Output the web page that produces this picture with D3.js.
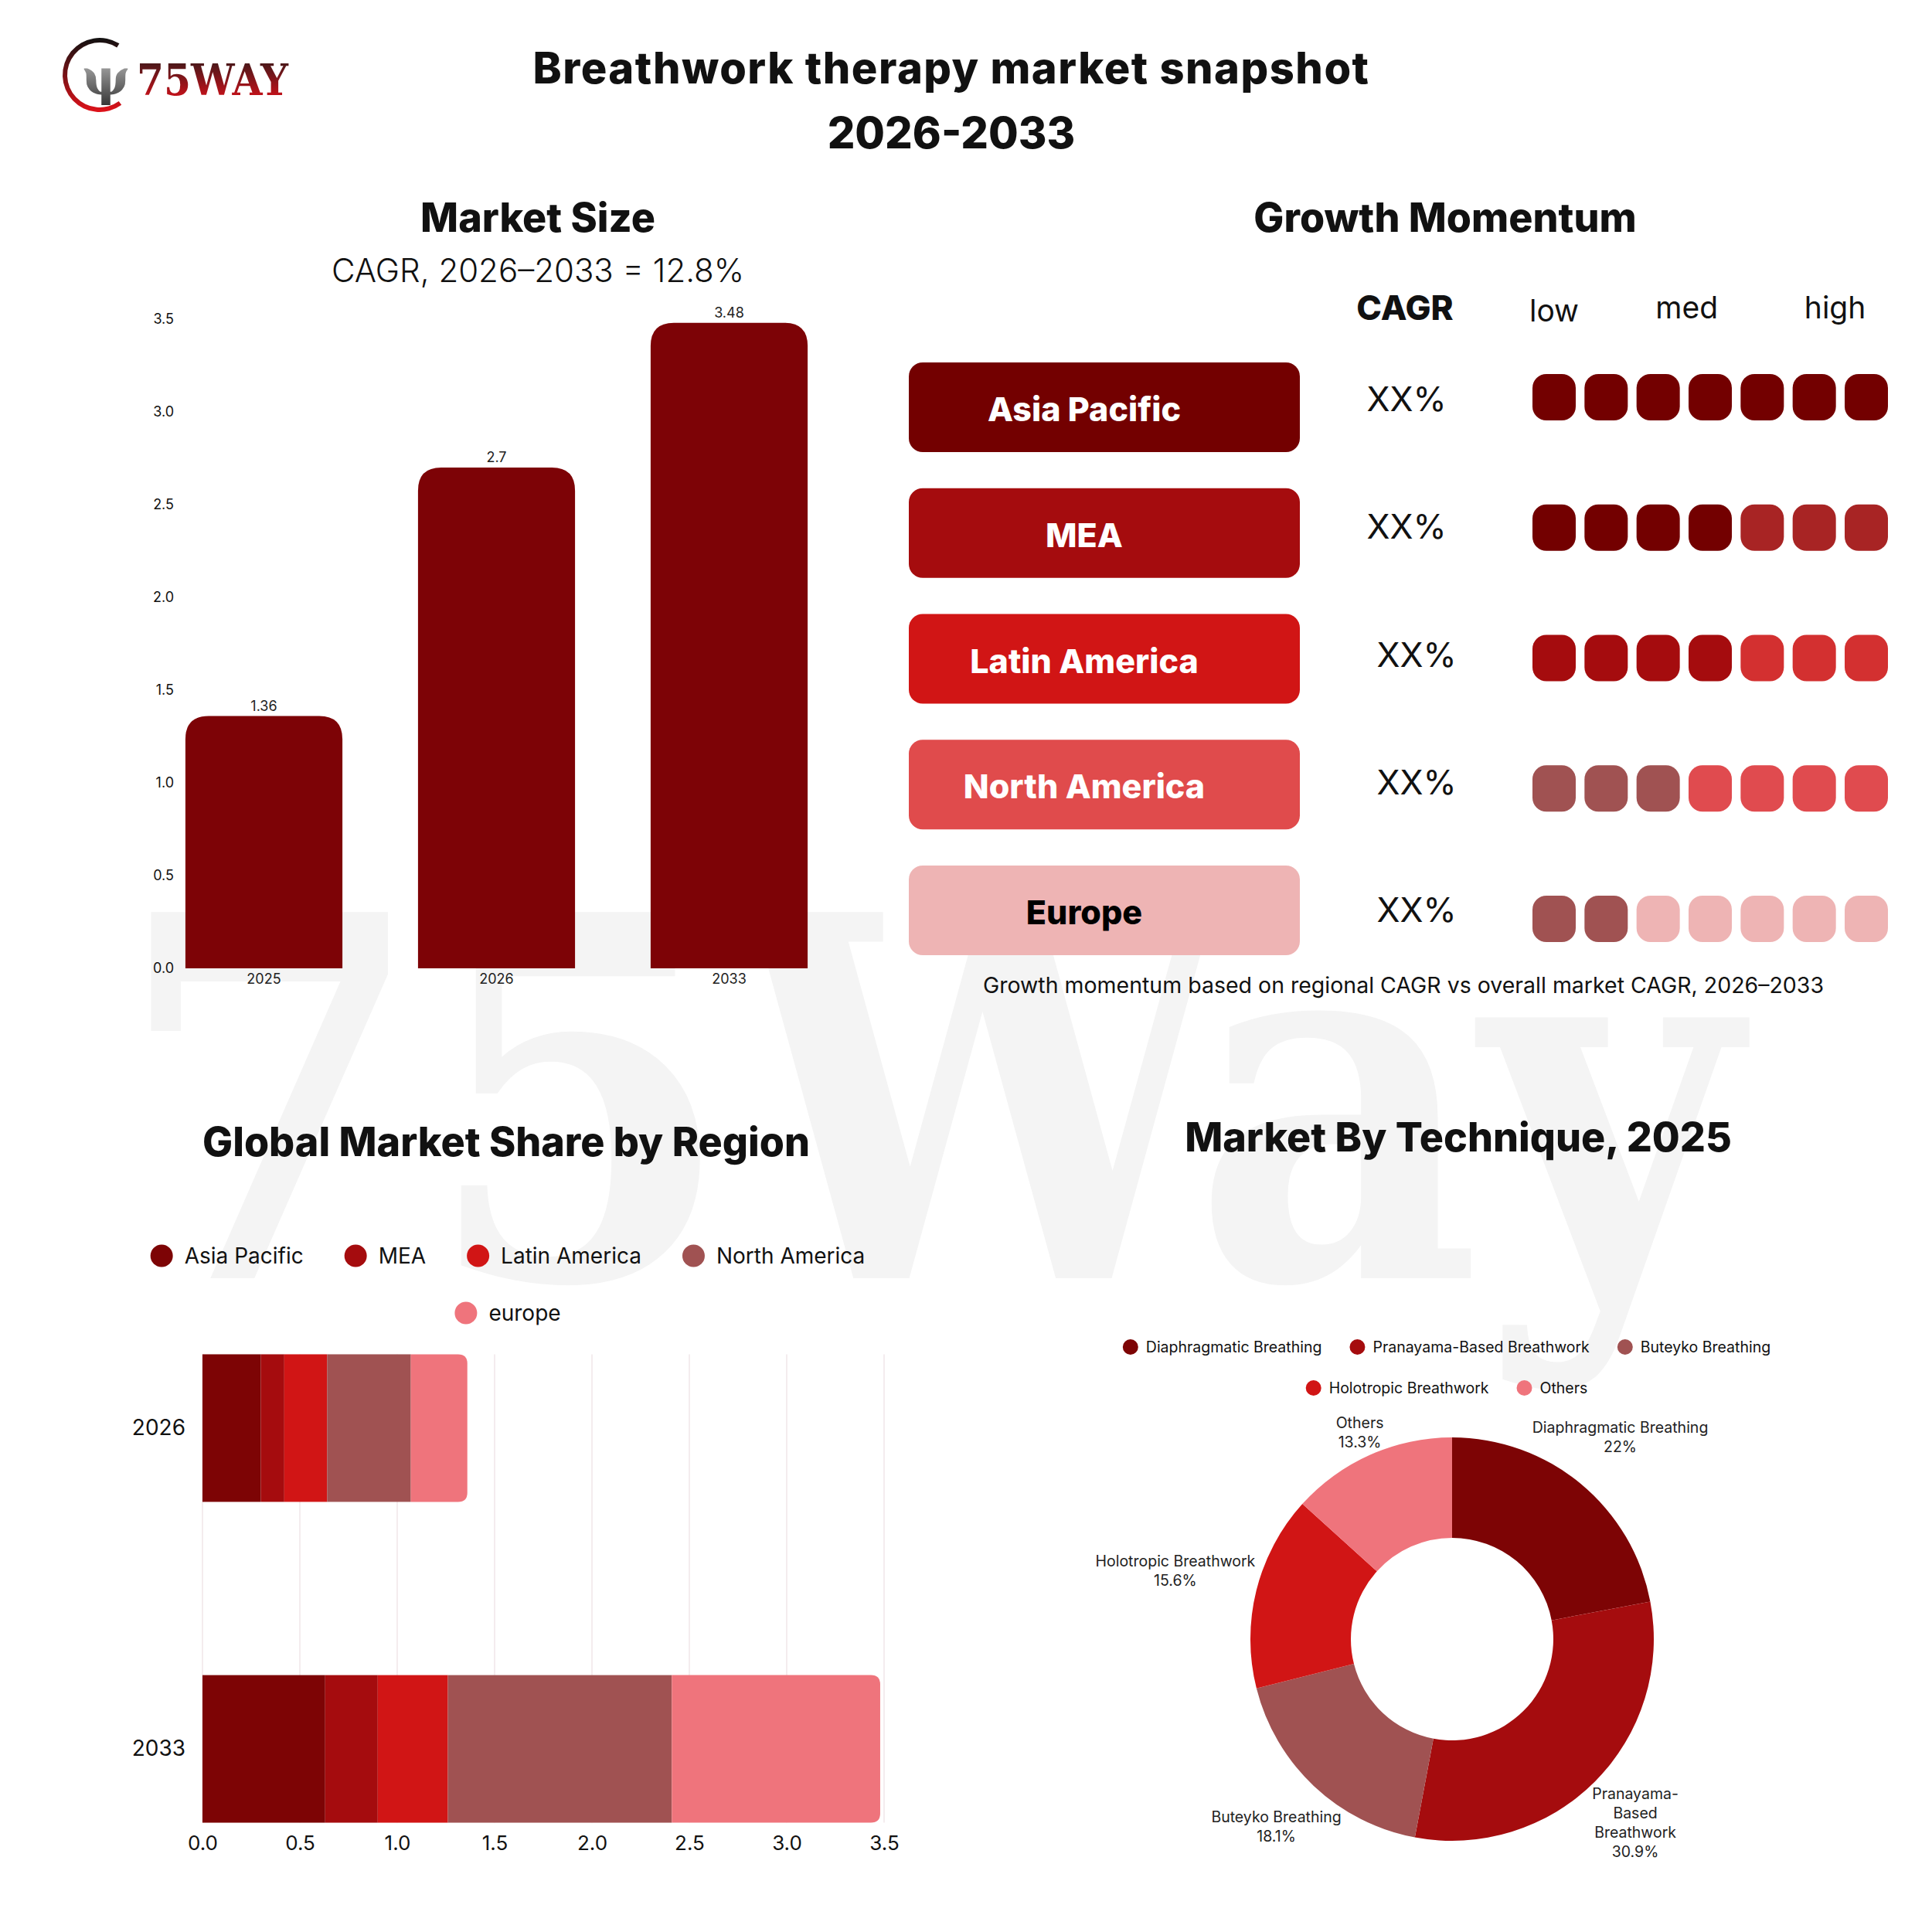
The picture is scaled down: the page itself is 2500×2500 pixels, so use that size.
<!DOCTYPE html>
<html>
<head>
<meta charset="utf-8">
<script src="https://cdn.jsdelivr.net/npm/d3@7"></script>
<style>
  body { margin: 0; background: #fff; }
  svg { display: block; }
  text { font-family: Inter, "Noto Sans", sans-serif; fill: #111; }
</style>
</head>
<body>
<div id="chart"></div>
<script>
// ---- data ----
var years = ["2025", "2026", "2033"];
var marketSize = [1.36, 2.7, 3.48];

var momentumRegions = ["Asia Pacific", "MEA", "Latin America", "North America", "Europe"];
var momentumCagr = ["XX%", "XX%", "XX%", "XX%", "XX%"];
var momentumBoxColors = ["#730000", "#a50c0e", "#d11515", "#e04b4c", "#eeb4b4"];
var momentumTextColors = ["#fff", "#fff", "#fff", "#fff", "#000"];
var momentumStrong = [7, 4, 4, 3, 2];
var momentumStrongColors = ["#730000", "#730000", "#a50c0e", "#a05252", "#a05252"];
var momentumWeakColors = ["#730000", "#a82424", "#d33030", "#e04b4f", "#eeb4b4"];
var momentumLevels = ["low", "med", "high"];

var shareYears = ["2026", "2033"];
var shareRegions = ["Asia Pacific", "MEA", "Latin America", "North America", "europe"];
var shareColors = ["#7d0405", "#a50c0e", "#d11515", "#a05252", "#ef747c"];
var share2026 = [0.30, 0.12, 0.22, 0.43, 0.29];
var share2033 = [0.63, 0.27, 0.36, 1.15, 1.07];
var shareTicks = [0, 0.5, 1, 1.5, 2, 2.5, 3, 3.5];

var techniques = ["Diaphragmatic Breathing", "Pranayama-Based Breathwork", "Buteyko Breathing", "Holotropic Breathwork", "Others"];
var techniqueShare = [22, 30.9, 18.1, 15.6, 13.3];
var techniqueColors = ["#7d0405", "#a50c0e", "#a05252", "#d11515", "#ef747c"];
var techniqueLabelLines = [["Diaphragmatic Breathing"], ["Pranayama-", "Based", "Breathwork"], ["Buteyko Breathing"], ["Holotropic Breathwork"], ["Others"]];

var W = 2500, H = 2500;
var svg = d3.select("#chart").append("svg")
  .attr("width", W)
  .attr("height", H);

var defs = svg.append("defs");

// watermark
svg.append("text")
  .attr("x", 150)
  .attr("y", 1654)
  .attr("textLength", 2100)
  .attr("lengthAdjust", "spacingAndGlyphs")
  .style("font-family", "'DejaVu Serif', serif")
  .style("font-weight", "bold")
  .style("font-size", "650px")
  .style("fill", "#f4f4f4")
  .text("75Way");

// ---- logo ----
var lg = defs.append("linearGradient").attr("id", "logoArc").attr("x1", 0).attr("y1", 0).attr("x2", 0).attr("y2", 1);
lg.append("stop").attr("offset", "0%").attr("stop-color", "#111");
lg.append("stop").attr("offset", "100%").attr("stop-color", "#e0121a");
var lt = defs.append("linearGradient").attr("id", "logoText").attr("x1", 0).attr("y1", 0).attr("x2", 0).attr("y2", 1);
lt.append("stop").attr("offset", "0%").attr("stop-color", "#2a1a1a");
lt.append("stop").attr("offset", "100%").attr("stop-color", "#e3101a");
var lp = defs.append("linearGradient").attr("id", "logoIcon").attr("x1", 0).attr("y1", 0).attr("x2", 0).attr("y2", 1);
lp.append("stop").attr("offset", "0%").attr("stop-color", "#d0d0d0");
lp.append("stop").attr("offset", "100%").attr("stop-color", "#333");

var logo = svg.append("g");
logo.append("path")
  .attr("transform", "translate(129,97)")
  .attr("d", d3.arc()({innerRadius: 42, outerRadius: 48, startAngle: 144 * Math.PI / 180, endAngle: 392 * Math.PI / 180}))
  .attr("fill", "url(#logoArc)");
logo.append("text")
  .attr("x", 137).attr("y", 122)
  .attr("text-anchor", "middle")
  .style("font-family", "'DejaVu Serif', serif")
  .style("font-weight", "bold")
  .style("font-size", "66px")
  .style("fill", "url(#logoIcon)")
  .text("ψ");
logo.append("text")
  .attr("x", 177).attr("y", 123)
  .attr("textLength", 196)
  .attr("lengthAdjust", "spacingAndGlyphs")
  .style("font-family", "'DejaVu Serif', serif")
  .style("font-weight", "bold")
  .style("font-size", "56px")
  .style("fill", "url(#logoText)")
  .text("75WAY");

// ---- main title ----
svg.append("text").attr("x", 1231).attr("y", 108).attr("text-anchor", "middle")
  .style("font-size", "56px").style("font-weight", 800).style("letter-spacing", "1.5px")
  .text("Breathwork therapy market snapshot");
svg.append("text").attr("x", 1231).attr("y", 192).attr("text-anchor", "middle")
  .style("font-size", "56px").style("font-weight", 800)
  .text("2026-2033");

function sectionTitle(x, y, t) {
  svg.append("text").attr("x", x).attr("y", y).attr("text-anchor", "middle")
    .style("font-size", "52px").style("font-weight", 800).text(t);
}

// rounded on top only
function topRounded(x, y, w, h, r) {
  return "M" + x + "," + (y + h) + "V" + (y + r) + "Q" + x + "," + y + " " + (x + r) + "," + y +
    "H" + (x + w - r) + "Q" + (x + w) + "," + y + " " + (x + w) + "," + (y + r) + "V" + (y + h) + "Z";
}
// rounded on right only
function rightRounded(x, y, w, h, r) {
  return "M" + x + "," + y + "H" + (x + w - r) + "Q" + (x + w) + "," + y + " " + (x + w) + "," + (y + r) +
    "V" + (y + h - r) + "Q" + (x + w) + "," + (y + h) + " " + (x + w - r) + "," + (y + h) + "H" + x + "Z";
}

// ---- Market Size ----
sectionTitle(696, 300, "Market Size");
svg.append("text").attr("x", 696).attr("y", 365).attr("text-anchor", "middle")
  .style("font-size", "42px").style("font-weight", 300)
  .text("CAGR, 2026–2033 = 12.8%");

var xSize = d3.scaleBand().domain(years).range([191, 1094]).paddingInner(0.325).paddingOuter(0.1625);
var ySize = d3.scaleLinear().domain([0, 3.5]).range([1253, 413]);

var sizeAxis = svg.append("g")
  .attr("transform", "translate(233,0)")
  .call(d3.axisLeft(ySize).tickValues(d3.range(0, 3.51, 0.5)).tickFormat(d3.format(".1f")).tickSize(0).tickPadding(8));
sizeAxis.select(".domain").remove();
sizeAxis.selectAll("text").style("font-size", "18px").style("font-family", "Inter, sans-serif").attr("fill", "#222");

svg.append("g").selectAll("path").data(marketSize).enter().append("path")
  .attr("d", function(d, i) {
    return topRounded(xSize(years[i]), ySize(d), xSize.bandwidth(), ySize(0) - ySize(d), 30);
  })
  .attr("fill", "#7d0306");

svg.append("g").selectAll("text").data(marketSize).enter().append("text")
  .attr("x", function(d, i) { return xSize(years[i]) + xSize.bandwidth() / 2; })
  .attr("y", function(d) { return ySize(d) - 7; })
  .attr("text-anchor", "middle")
  .style("font-size", "18px").style("fill", "#222")
  .text(function(d) { return d; });

svg.append("g").selectAll("text").data(years).enter().append("text")
  .attr("x", function(d) { return xSize(d) + xSize.bandwidth() / 2; })
  .attr("y", 1273)
  .attr("text-anchor", "middle")
  .style("font-size", "18px").style("fill", "#222")
  .text(function(d) { return d; });

// ---- Growth Momentum ----
sectionTitle(1870, 300, "Growth Momentum");

var rowBox = d3.scaleLinear().domain([0, 4]).range([469, 1120]);
var rowDot = d3.scaleLinear().domain([0, 4]).range([514, 1189]);
var rowCagr = d3.scaleLinear().domain([0, 4]).range([532, 1193]);
var dotX = d3.scaleLinear().domain([0, 6]).range([1983, 2387]);

svg.append("text").attr("x", 1818).attr("y", 414).attr("text-anchor", "middle")
  .style("font-size", "44px").style("font-weight", 800).text("CAGR");
svg.append("g").selectAll("text").data(momentumLevels).enter().append("text")
  .attr("x", function(d, i) { return dotX([0, 2.55, 5.4][i]) + 28; })
  .attr("y", function(d, i) { return i == 0 ? 416 : 412; })
  .attr("text-anchor", "middle")
  .style("font-size", "39px")
  .text(function(d) { return d; });

var rows = svg.append("g").selectAll("g").data(momentumRegions).enter().append("g");
rows.append("rect")
  .attr("x", 1176).attr("width", 506)
  .attr("y", function(d, i) { return rowBox(i); })
  .attr("height", 116).attr("rx", 18)
  .attr("fill", function(d, i) { return momentumBoxColors[i]; });
rows.append("text")
  .attr("x", 1403)
  .attr("y", function(d, i) { return rowBox(i) + 76; })
  .attr("text-anchor", "middle")
  .style("font-size", "43px").style("font-weight", 800)
  .style("fill", function(d, i) { return momentumTextColors[i]; })
  .text(function(d) { return d; });
rows.append("text")
  .attr("x", function(d, i) { return i < 2 ? 1820 : 1833; })
  .attr("y", function(d, i) { return rowCagr(i); })
  .attr("text-anchor", "middle")
  .style("font-size", "44px")
  .text(function(d, i) { return momentumCagr[i]; });
rows.each(function(d, i) {
  d3.select(this).selectAll(".dot").data(d3.range(7)).enter().append("rect")
    .attr("class", "dot")
    .attr("x", function(k) { return dotX(k); })
    .attr("y", rowDot(i) - 30)
    .attr("width", 56).attr("height", 60).attr("rx", 18)
    .attr("fill", function(k) { return k < momentumStrong[i] ? momentumStrongColors[i] : momentumWeakColors[i]; });
});

svg.append("text").attr("x", 1816).attr("y", 1285).attr("text-anchor", "middle")
  .style("font-size", "28.5px")
  .text("Growth momentum based on regional CAGR vs overall market CAGR, 2026–2033");

// legend helper: centered rows, wraps at maxW
function legend(items, colors, cx, y0, rowGap, r, fs, gapText, gapItem, maxW) {
  var g = svg.append("g");
  var widths = items.map(function(t) {
    var tmp = g.append("text").style("font-size", fs + "px").text(t);
    var w = tmp.node().getComputedTextLength();
    tmp.remove();
    return 2 * r + gapText + w;
  });
  var lines = [[]], lw = [0];
  items.forEach(function(t, i) {
    var cur = lines.length - 1;
    var add = (lines[cur].length ? gapItem : 0) + widths[i];
    if (lines[cur].length && lw[cur] + add > maxW) { lines.push([]); lw.push(0); cur++; add = widths[i]; }
    lines[cur].push(i); lw[cur] += add;
  });
  lines.forEach(function(line, li) {
    var x = cx - lw[li] / 2, y = y0 + li * rowGap;
    line.forEach(function(i) {
      g.append("circle").attr("cx", x + r).attr("cy", y).attr("r", r).attr("fill", colors[i]);
      g.append("text").attr("x", x + 2 * r + gapText).attr("y", y).attr("dy", "0.35em")
        .style("font-size", fs + "px").text(items[i]);
      x += widths[i] + gapItem;
    });
  });
}

// ---- Global Market Share by Region ----
sectionTitle(655, 1496, "Global Market Share by Region");
legend(shareRegions, shareColors, 657, 1625, 74, 14.5, 28, 15, 53, 1000);

var xShare = d3.scaleLinear().domain([0, 3.5]).range([262, 1144]);
var yShare = d3.scaleBand().domain(shareYears).range([1740, 2371]).paddingInner(0.54).paddingOuter(0.03);

svg.append("g").selectAll("line").data(shareTicks).enter().append("line")
  .attr("x1", function(d) { return xShare(d); })
  .attr("x2", function(d) { return xShare(d); })
  .attr("y1", yShare("2026"))
  .attr("y2", yShare("2033") + yShare.bandwidth())
  .attr("stroke", "#f1e6e9").attr("stroke-width", 1.5);

var stackData = [share2026, share2033];
stackData.forEach(function(vals, j) {
  var yr = shareYears[j];
  var acc = 0;
  var g = svg.append("g");
  vals.forEach(function(v, i) {
    var x0 = xShare(acc), x1 = xShare(acc + v);
    acc += v;
    if (i == vals.length - 1) {
      g.append("path")
        .attr("d", rightRounded(x0, yShare(yr), x1 - x0, yShare.bandwidth(), 12))
        .attr("fill", shareColors[i]);
    } else {
      g.append("rect")
        .attr("x", x0).attr("y", yShare(yr))
        .attr("width", x1 - x0).attr("height", yShare.bandwidth())
        .attr("fill", shareColors[i]);
    }
  });
});

var shareX = svg.append("g")
  .attr("transform", "translate(0,2360)")
  .call(d3.axisBottom(xShare).tickValues(shareTicks).tickFormat(d3.format(".1f")).tickSize(0).tickPadding(16));
shareX.select(".domain").remove();
shareX.selectAll("text").style("font-size", "26px").style("font-family", "Inter, sans-serif").attr("fill", "#111");

var shareY = svg.append("g")
  .attr("transform", "translate(262,0)")
  .call(d3.axisLeft(yShare).tickSize(0).tickPadding(22));
shareY.select(".domain").remove();
shareY.selectAll("text").style("font-size", "28px").style("font-family", "Inter, sans-serif").attr("fill", "#111");

// ---- Market By Technique ----
sectionTitle(1887, 1490, "Market By Technique, 2025");
legend(techniques, techniqueColors, 1872, 1743, 53, 10, 19.5, 10, 36, 950);

var cx = 1879, cy = 2121, rOut = 261, rIn = 131;
var pie = d3.pie().sort(null).value(function(d) { return d; });
var arcs = pie(techniqueShare);
var arc = d3.arc().innerRadius(rIn).outerRadius(rOut);
var donut = svg.append("g").attr("transform", "translate(" + cx + "," + cy + ")");
donut.selectAll("path").data(arcs).enter().append("path")
  .attr("d", arc)
  .attr("fill", function(d, i) { return techniqueColors[i]; });

// labels pushed outward along the mid-angle until their text box clears the ring
var lineH = 25, lfs = 19.5;
arcs.forEach(function(a, i) {
  var ang = (a.startAngle + a.endAngle) / 2;
  var dx = Math.sin(ang), dy = -Math.cos(ang);
  var lines = techniqueLabelLines[i].concat([techniqueShare[i] + "%"]);
  var g = donut.append("g");
  var maxw = 0;
  lines.forEach(function(t) {
    var tmp = g.append("text").style("font-size", lfs + "px").text(t);
    maxw = Math.max(maxw, tmp.node().getComputedTextLength());
    tmp.remove();
  });
  var hw = maxw / 2, hh = ((lines.length - 1) * lineH + 16) / 2;
  var d = rOut;
  for (; d < rOut + 300; d++) {
    var bx = dx * d, by = dy * d;
    var nx = Math.max(bx - hw, Math.min(0, bx + hw));
    var ny = Math.max(by - hh, Math.min(0, by + hh));
    if (Math.sqrt(nx * nx + ny * ny) >= rOut + 2) break;
  }
  var lx = dx * d, ly = dy * d;
  lines.forEach(function(t, j) {
    g.append("text")
      .attr("x", lx)
      .attr("y", ly - hh + 16 + lineH * j)
      .attr("text-anchor", "middle")
      .style("font-size", lfs + "px").style("fill", "#222")
      .text(t);
  });
});
</script>
</body>
</html>
